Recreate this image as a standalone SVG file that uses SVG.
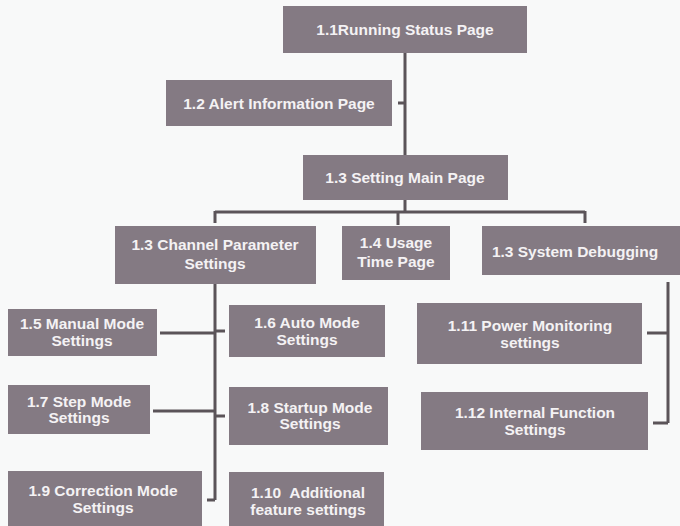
<svg xmlns="http://www.w3.org/2000/svg" width="680" height="526" viewBox="0 0 680 526">
<style>
.box{fill:#847a83;}
.t{font-family:"Liberation Sans",Arial,sans-serif;font-weight:bold;font-size:15.5px;fill:#f4f2f4;text-anchor:middle;}
.c{stroke:#5b5459;stroke-width:3;fill:none;}
</style>
<rect x="0" y="0" width="680" height="526" fill="#f8f9f9"/>
<g id="connectors">
<path class="c" d="M405 53V155M398 103H405"/>
<path class="c" d="M405 200V212M215 212H585M215 211V223M398 211V225M585 211V223"/>
<path class="c" d="M215 284V500M207 500H215M160 333H215M215 331H225M153 411H215M215 416H225"/>
<path class="c" d="M668 282V423M647 333H668M653 423H668"/>
</g>
<g id="n11"><rect class="box" x="283" y="6" width="244" height="47"/><text class="t" x="405" y="35">1.1Running Status Page</text></g>
<g id="n12"><rect class="box" x="166" y="80" width="226" height="46"/><text class="t" x="279" y="109">1.2 Alert Information Page</text></g>
<g id="n13"><rect class="box" x="303" y="155" width="205" height="45"/><text class="t" x="405" y="183">1.3 Setting Main Page</text></g>
<g id="n13a"><rect class="box" x="115" y="226" width="201" height="58"/><text class="t" x="215" y="250">1.3 Channel Parameter</text><text class="t" x="215" y="269">Settings</text></g>
<g id="n14"><rect class="box" x="342" y="226" width="108" height="54"/><text class="t" x="396" y="248">1.4 Usage</text><text class="t" x="396" y="267">Time Page</text></g>
<g id="n13b"><rect class="box" x="482" y="226" width="198" height="49"/><text class="t" x="575" y="257">1.3 System Debugging</text></g>
<g id="n15"><rect class="box" x="8" y="309" width="149" height="47"/><text class="t" x="82" y="329">1.5 Manual Mode</text><text class="t" x="82" y="346">Settings</text></g>
<g id="n16"><rect class="box" x="229" y="305" width="156" height="52"/><text class="t" x="307" y="328">1.6 Auto Mode</text><text class="t" x="307" y="345">Settings</text></g>
<g id="n17"><rect class="box" x="8" y="385" width="142" height="49"/><text class="t" x="79" y="407">1.7 Step Mode</text><text class="t" x="79" y="423">Settings</text></g>
<g id="n18"><rect class="box" x="229" y="387" width="159" height="58"/><text class="t" x="310" y="413">1.8 Startup Mode</text><text class="t" x="310" y="429">Settings</text></g>
<g id="n19"><rect class="box" x="8" y="471" width="194" height="55"/><text class="t" x="103" y="496">1.9 Correction Mode</text><text class="t" x="103" y="513">Settings</text></g>
<g id="n110"><rect class="box" x="229" y="472" width="155" height="54"/><text class="t" x="308" y="498" style="white-space:pre">1.10  Additional</text><text class="t" x="308" y="515">feature settings</text></g>
<g id="n111"><rect class="box" x="417" y="303" width="225" height="61"/><text class="t" x="530" y="331">1.11 Power Monitoring</text><text class="t" x="530" y="348">settings</text></g>
<g id="n112"><rect class="box" x="421" y="392" width="227" height="58"/><text class="t" x="535" y="418">1.12 Internal Function</text><text class="t" x="535" y="435">Settings</text></g>
</svg>
